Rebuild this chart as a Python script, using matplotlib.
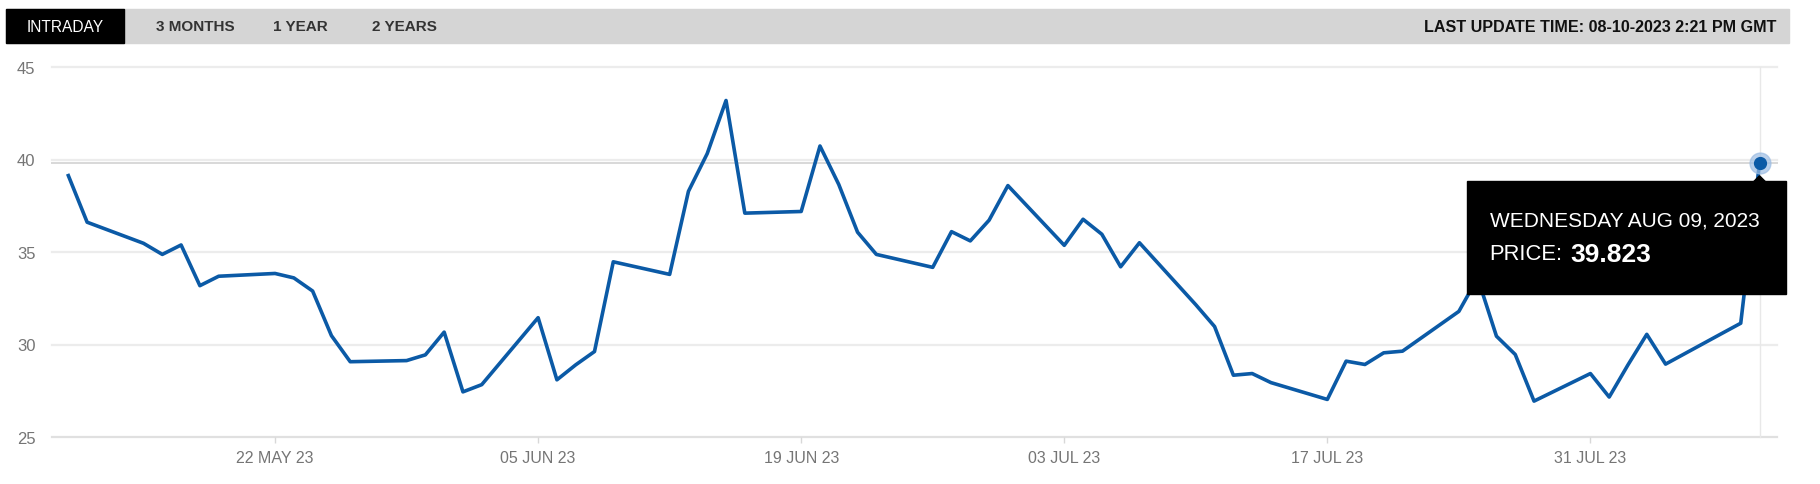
import matplotlib
matplotlib.use("Agg")
import matplotlib.pyplot as plt
import matplotlib.dates as mdates
from matplotlib.patches import Rectangle, Polygon
import pandas as pd

plt.rcParams['font.family'] = ['Liberation Sans', 'DejaVu Sans']

# daily prices
dates = pd.to_datetime([
    "2023-05-11", "2023-05-12", "2023-05-15", "2023-05-16", "2023-05-17",
    "2023-05-18", "2023-05-19", "2023-05-22", "2023-05-23", "2023-05-24",
    "2023-05-25", "2023-05-26", "2023-05-29", "2023-05-30", "2023-05-31",
    "2023-06-01", "2023-06-02", "2023-06-05", "2023-06-06", "2023-06-07",
    "2023-06-08", "2023-06-09", "2023-06-12", "2023-06-13", "2023-06-14",
    "2023-06-15", "2023-06-16", "2023-06-19", "2023-06-20", "2023-06-21",
    "2023-06-22", "2023-06-23", "2023-06-26", "2023-06-27", "2023-06-28",
    "2023-06-29", "2023-06-30", "2023-07-03", "2023-07-04", "2023-07-05",
    "2023-07-06", "2023-07-07", "2023-07-10", "2023-07-11", "2023-07-12",
    "2023-07-13", "2023-07-14", "2023-07-17", "2023-07-18", "2023-07-19",
    "2023-07-20", "2023-07-21", "2023-07-24", "2023-07-25", "2023-07-26",
    "2023-07-27", "2023-07-28", "2023-07-31", "2023-08-01", "2023-08-02",
    "2023-08-03", "2023-08-04", "2023-08-07", "2023-08-08", "2023-08-09",
])
prices = [
    39.13, 36.61, 35.47, 34.87, 35.38,
    33.18, 33.69, 33.84, 33.60, 32.89,
    30.48, 29.07, 29.13, 29.44, 30.67,
    27.44, 27.83, 31.45, 28.09, 28.90,
    29.62, 34.47, 33.79, 38.28, 40.32,
    43.19, 37.10, 37.19, 40.73, 38.65,
    36.07, 34.87, 34.17, 36.10, 35.60,
    36.72, 38.59, 35.36, 36.77, 35.96,
    34.20, 35.50, 32.15, 30.97, 28.34,
    28.43, 27.94, 27.03, 29.10, 28.92,
    29.55, 29.64, 31.79, 33.60, 30.45,
    29.46, 26.94, 28.43, 27.16, 28.90,
    30.55, 28.94, 30.60, 31.15, 39.823,
]
tick_dates = pd.to_datetime(["2023-05-22", "2023-06-05", "2023-06-19",
                             "2023-07-03", "2023-07-17", "2023-07-31"])
y_ticks = [25, 30, 35, 40, 45]
tabs = ["INTRADAY", "3 MONTHS", "1 YEAR", "2 YEARS"]
update_text = "LAST UPDATE TIME: 08-10-2023 2:21 PM GMT"
tip_date = "WEDNESDAY AUG 09, 2023"
tip_label = "PRICE:"

W, H = 1820, 485
fig = plt.figure(figsize=(W / 100, H / 100), dpi=100)


def fx(px):
    return px / W


def fy(py):
    return 1 - py / H


ax = fig.add_axes([fx(52), fy(438), fx(1777) - fx(52), fy(68) - fy(438)])
blue = "#0b5aa6"

for y in y_ticks:
    ax.axhline(y, color="#e0e0e0" if y == y_ticks[0] else "#ececec",
               lw=1.6, clip_on=False, zorder=0)

ax.plot(dates, prices, color=blue, lw=2.6, zorder=3)

x0 = mdates.date2num(dates[0]) - 0.87
x1 = mdates.date2num(dates[-1]) + 0.93
ax.set_xlim(x0, x1)
ax.set_ylim(y_ticks[0], y_ticks[-1])

ax.set_yticks(y_ticks)
ax.set_yticklabels([str(v) for v in y_ticks])
ax.set_xticks(tick_dates)
ax.set_xticklabels([d.strftime("%d %b %y").upper() for d in tick_dates])
ax.tick_params(axis="y", length=0, pad=12, labelsize=12, labelcolor="#757575")
ax.tick_params(axis="x", length=4.5, width=1, color="#d8d8d8", pad=5,
               labelsize=11.5, labelcolor="#757575")
for s in ax.spines.values():
    s.set_visible(False)

# hover crosshair on last point
last_x = mdates.date2num(dates[-1])
ax.axvline(last_x, color="#e8e8e8", lw=1, zorder=1, clip_on=False)
ax.axhline(prices[-1], color="#d8d8d8", lw=1.4, zorder=1, clip_on=False)
ax.plot([last_x], [prices[-1]], "o", ms=15, color="#9dbde3", alpha=0.7,
        zorder=4, clip_on=False)
ax.plot([last_x], [prices[-1]], "o", ms=8.5, color=blue, zorder=5, clip_on=False)

# top tab bar
fig.add_artist(Rectangle((fx(6), fy(44)), fx(1789) - fx(6), fy(10) - fy(44),
                         transform=fig.transFigure, color="#d5d5d5", zorder=0))
fig.add_artist(Rectangle((fx(6), fy(44)), fx(124) - fx(6), fy(10) - fy(44),
                         transform=fig.transFigure, color="black", zorder=1))
tab_x = [65, 195, 300, 404]
for i, (t, xp) in enumerate(zip(tabs, tab_x)):
    fig.text(fx(xp), fy(27), t, ha="center", va="center",
             fontsize=11.2 if i == 0 else 11,
             color="white" if i == 0 else "#333333",
             fontweight="normal" if i == 0 else "bold", zorder=2)
fig.text(fx(1776), fy(27), update_text, ha="right", va="center",
         fontsize=11.6, fontweight="bold", color="#111111", zorder=2)

# tooltip box
inv = fig.transFigure.inverted()
px, py = ax.transData.transform((last_x, prices[-1]))


def fig_pt(dx, dy):
    return inv.transform((px + dx, py + dy))


bl = fig_pt(-293, -131)
tr = fig_pt(26, -18)
fig.add_artist(Rectangle(bl, tr[0] - bl[0], tr[1] - bl[1],
                         transform=fig.transFigure, color="black", zorder=6))
fig.add_artist(Polygon([fig_pt(-6, -19), fig_pt(6, -19), fig_pt(0, -13)],
                       closed=True, transform=fig.transFigure, color="black",
                       zorder=6))
p = fig_pt(-270, -57)
fig.text(p[0], p[1], tip_date, ha="left", va="center", fontsize=15,
         color="white", zorder=7)
p = fig_pt(-270, -91)
t1 = fig.text(p[0], p[1], tip_label, ha="left", va="center", fontsize=15.8,
              color="white", zorder=7)
r = fig.canvas.get_renderer()
ext = t1.get_window_extent(renderer=r)
p2 = inv.transform((ext.x1 + 8, 0))
fig.text(p2[0], p[1], f"{prices[-1]:.3f}", ha="left", va="center",
         fontsize=19, fontweight="bold", color="white", zorder=7)

fig.savefig("out.png", dpi=100, facecolor="white")
